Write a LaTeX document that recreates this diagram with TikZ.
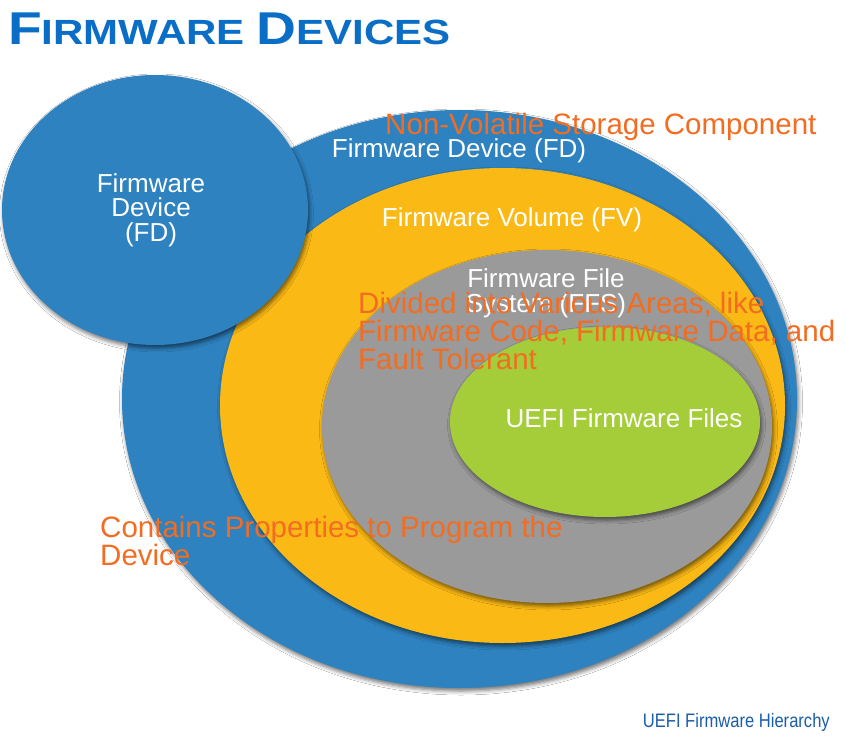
\documentclass[tikz,border=0pt]{standalone}
\usepackage{fontspec}
\setmainfont{Liberation Sans}
\newfontfamily\titleFont[FakeStretch=1.2]{Liberation Sans}
\newfontfamily\captionFont[FakeStretch=0.85]{Liberation Sans}
\usetikzlibrary{shapes.geometric, shadows.blur}

\begin{document}
\begin{tikzpicture}[x=1pt, y=-1pt,
    layer/.style={ellipse, inner sep=0pt, draw=none,
        blur shadow={shadow xshift=1.5pt, shadow yshift=-3pt,
                     shadow blur radius=4pt, shadow opacity=55}},
    whiteLabel/.style={text=white, inner sep=0pt, align=center,
        font=\fontsize{26}{25}\selectfont},
    noteLabel/.style={text=noteColour, inner sep=0pt, align=left,
        font=\fontsize{29.5}{28}\selectfont}]

    % Define colours
    \definecolor{deviceColour}{HTML}{2E82C0}
    \definecolor{volumeColour}{HTML}{FBB915}
    \definecolor{fileSysColour}{HTML}{9A9A9A}
    \definecolor{filesColour}{HTML}{A5CD39}
    \definecolor{noteColour}{HTML}{F26D21}
    \definecolor{titleColour}{HTML}{0A6EC6}
    \definecolor{captionColour}{HTML}{1B5EA8}

    % Page size
    \fill[white] (0,0) rectangle (846,738);
    \useasboundingbox (0,0) rectangle (846,738);

    % Draw nested layers
    \node[layer, fill=deviceColour, minimum width=675pt, minimum height=578pt] (fd) at (459.5,399) {};
    \node[layer, fill=volumeColour, minimum width=565pt, minimum height=475pt] (fv) at (502.5,405.5) {};
    \node[layer, fill=fileSysColour, minimum width=450pt, minimum height=353pt] (ffs) at (547,426.5) {};
    \node[layer, fill=filesColour, minimum width=310pt, minimum height=190pt] (files) at (605,422) {};

    % Draw separate device bubble
    \node[layer, fill=deviceColour, minimum width=306pt, minimum height=270pt] (fdBubble) at (155,210) {};

    % Layer labels (base = last line)
    \node[whiteLabel, anchor=base] (fdLabel) at (459,158) {Firmware Device (FD)};
    \node[whiteLabel, anchor=base] (fvLabel) at (512,227) {Firmware Volume (FV)};
    \node[whiteLabel, anchor=base] (ffsLabel) at (546,312) {Firmware File\\System (FFS)};
    \node[whiteLabel, anchor=base] (filesLabel) at (624,427) {UEFI Firmware Files};
    \node[whiteLabel, anchor=base] (bubbleLabel) at (151,242) {Firmware\\Device\\(FD)};

    % Notes
    \node[noteLabel, anchor=base west] (storageNote) at (385,135) {Non-Volatile Storage Component};
    \node[noteLabel, anchor=base west] (areasNote) at (358,369) {Divided into Various Areas, like\\Firmware Code, Firmware Data, and\\Fault Tolerant};
    \node[noteLabel, anchor=base west] (propsNote) at (100,565) {Contains Properties to Program the\\Device};

    % Title and caption
    \node[anchor=base west, inner sep=0pt, text=titleColour] (title) at (8,45)
        {\titleFont\bfseries\fontsize{46}{46}\selectfont F\fontsize{35}{35}\selectfont IRMWARE
         \fontsize{46}{46}\selectfont D\fontsize{35}{35}\selectfont EVICES};
    \node[anchor=base east, inner sep=0pt, text=captionColour] (caption) at (830,727)
        {\captionFont\fontsize{19.5}{20}\selectfont UEFI Firmware Hierarchy};

\end{tikzpicture}
\end{document}
